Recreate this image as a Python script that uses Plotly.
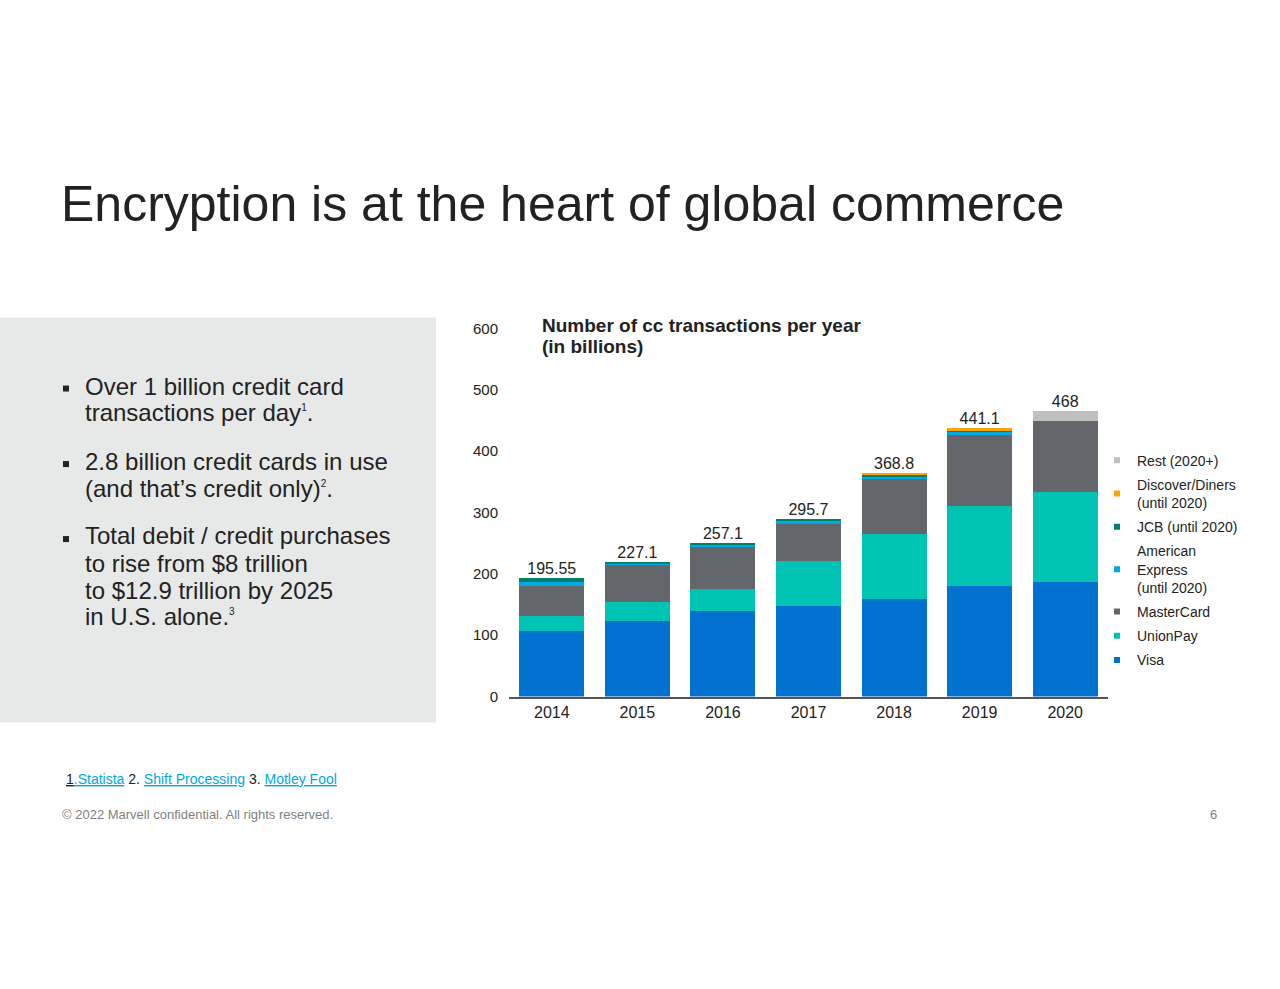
import plotly.graph_objects as go

W, H = 1280, 989
FONT = "Liberation Sans, Arial, sans-serif"

# chart data (billions of transactions)
years = ["2014", "2015", "2016", "2017", "2018", "2019", "2020"]
visa = [106.5, 122.8, 140.2, 147.8, 159.8, 180.4, 187.5]
unionpay = [25.5, 31.0, 35.9, 73.9, 106.0, 131.0, 146.8]
mastercard = [49.0, 60.0, 67.4, 59.8, 88.6, 115.8, 115.7]
amex = [5.0, 4.0, 4.9, 4.3, 5.4, 5.4, 0]
jcb = [7.0, 1.5, 2.7, 4.4, 2.5, 2.0, 0]
discover = [0, 0, 0, 0, 2.0, 2.5, 0]
rest = [0, 0, 0, 0, 0, 0, 16.3]
total_labels = ["195.55", "227.1", "257.1", "295.7", "368.8", "441.1", "468"]

series = [
    ("Visa", visa, "#0071CE"),
    ("UnionPay", unionpay, "#00C4B3"),
    ("MasterCard", mastercard, "#63666A"),
    ("American<br>Express<br>(until 2020)", amex, "#00A9E0"),
    ("JCB (until 2020)", jcb, "#00806E"),
    ("Discover/Diners<br>(until 2020)", discover, "#FFA300"),
    ("Rest (2020+)", rest, "#C0C0BE"),
]

bullets = [
    ["Over 1 billion credit card",
     "transactions per day<sup><span style='font-size:10px'>1</span></sup>."],
    ["2.8 billion credit cards in use",
     "(and that’s credit only)<sup><span style='font-size:10px'>2</span></sup>."],
    ["Total debit / credit purchases",
     "to rise from $8 trillion",
     "to $12.9 trillion by 2025",
     "in U.S. alone.<sup><span style='font-size:10px'>3</span></sup>"],
]


def px(x):
    return x / W


def py(y):
    # the page photo comes out slightly squeezed vertically; compensate
    return 1 - (y - 8.5) / 0.9827 / H


fig = go.Figure()

for name, vals, color in series:
    fig.add_trace(go.Bar(
        x=years, y=vals, name=name, marker_color=color,
        marker_line_width=0, showlegend=False, hoverinfo="y+name",
    ))

# small square legend entries, top-down in reverse stacking order
for i, (name, vals, color) in enumerate(reversed(series)):
    fig.add_trace(go.Scatter(
        x=[None], y=[None], mode="markers", name=name,
        marker=dict(symbol="square", size=6, color=color),
        legendgroup=f"g{i}", legendrank=i + 1, showlegend=True,
    ))

totals = [sum(v) for v in zip(*[s[1] for s in series])]
fig.add_trace(go.Scatter(
    x=years, y=totals, mode="text", text=total_labels,
    textposition="top center", textfont=dict(size=16, color="#222222"),
    showlegend=False, hoverinfo="skip",
))

annotations = [
    dict(x=px(59), y=py(203), text="Encryption is at the heart of global commerce",
         font=dict(size=50, color="#222222"), xanchor="left", yanchor="middle"),
    dict(x=px(540), y=py(325), text="<b>Number of cc transactions per year</b>",
         font=dict(size=19, color="#222222"), xanchor="left", yanchor="middle"),
    dict(x=px(540), y=py(346), text="<b>(in billions)</b>",
         font=dict(size=19, color="#222222"), xanchor="left", yanchor="middle"),
    dict(x=px(64), y=py(778),
         text="<span style='text-decoration:underline'>1</span>"
              "<span style='color:#00A9E0;text-decoration:underline'>.Statista</span> 2. "
              "<span style='color:#00A9E0;text-decoration:underline'>Shift Processing</span> 3. "
              "<span style='color:#00A9E0;text-decoration:underline'>Motley Fool</span>",
         font=dict(size=14, color="#222222"), xanchor="left", yanchor="middle"),
    dict(x=px(60), y=py(814), text="© 2022 Marvell confidential. All rights reserved.",
         font=dict(size=13, color="#7F7F7F"), xanchor="left", yanchor="middle"),
    dict(x=px(1219), y=py(814), text="6",
         font=dict(size=13, color="#7F7F7F"), xanchor="right", yanchor="middle"),
]

shapes = [
    dict(type="rect", xref="paper", yref="paper", x0=0, x1=px(436),
         y0=py(722), y1=py(317), fillcolor="#E7E9E8", line_width=0, layer="below"),
]

line_y = [[386, 412], [461, 488], [535, 563, 590, 616]]
for lines, ys, by in zip(bullets, line_y, [388, 463.5, 538.5]):
    shapes.append(dict(type="rect", xref="paper", yref="paper",
                       x0=px(63), x1=px(69), y0=py(by + 3), y1=py(by - 3),
                       fillcolor="#222222", line_width=0))
    for txt, yy in zip(lines, ys):
        annotations.append(dict(x=px(83), y=py(yy), text=txt,
                                font=dict(size=24, color="#222222"),
                                xanchor="left", yanchor="middle"))

for a in annotations:
    a.update(xref="paper", yref="paper", showarrow=False)

fig.update_layout(
    width=W, height=H,
    margin=dict(l=0, r=0, t=0, b=0),
    paper_bgcolor="white", plot_bgcolor="white",
    font=dict(family=FONT, color="#222222"),
    barmode="stack", bargap=0.24,
    xaxis=dict(domain=[px(509), px(1108)], showline=True, linecolor="#555555",
               linewidth=1.5, ticks="", showgrid=False,
               tickfont=dict(size=16, color="#222222")),
    yaxis=dict(domain=[py(696), py(328)], range=[0, 600], dtick=100,
               showline=False, showgrid=False, zeroline=False, ticks="",
               ticklabelstandoff=10, tickfont=dict(size=15, color="#222222")),
    legend=dict(x=px(1097), y=py(444), xanchor="left", yanchor="top",
                traceorder="grouped", tracegroupgap=3,
                font=dict(size=14, color="#222222"), bgcolor="rgba(0,0,0,0)"),
    annotations=annotations,
    shapes=shapes,
)

fig.write_html(
    "out.html",
    config={"displayModeBar": False},
    post_script=(
        "document.documentElement.style.margin='0';"
        "document.body.style.margin='0';"
        "document.body.style.overflow='hidden';"
        "var d=document.getElementsByClassName('plotly-graph-div')[0];"
        "d.style.position='fixed';d.style.top='0';d.style.left='0';"
    ),
)
